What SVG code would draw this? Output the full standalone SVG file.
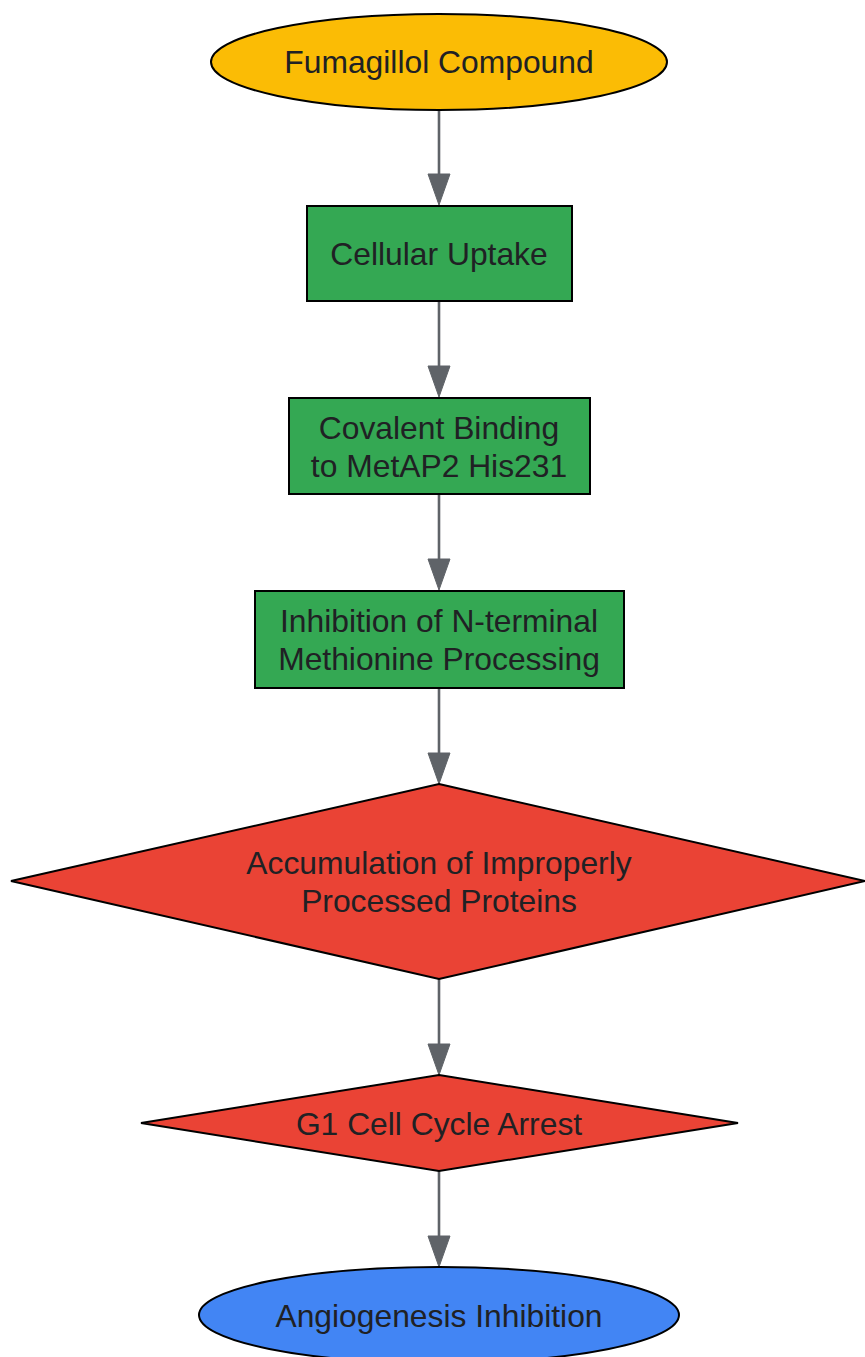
<svg xmlns="http://www.w3.org/2000/svg" width="865" height="1357" viewBox="0 0 865 1357">
<style>
.n{stroke:#000;stroke-width:2}
.t{font-family:"Liberation Sans",Arial,sans-serif;font-size:31.8px;fill:#202124;text-anchor:middle}
.e{stroke:#5F6368;stroke-width:2.6;fill:none}
.h{fill:#5F6368;stroke:#5F6368;stroke-width:1}
</style>
<rect width="865" height="1357" fill="#fff"/>
<g id="connectors">
<line class="e" x1="439" y1="110" x2="439" y2="175"/><polygon class="h" points="428,174 450,174 439,205"/>
<line class="e" x1="439" y1="301" x2="439" y2="367"/><polygon class="h" points="428,366 450,366 439,397"/>
<line class="e" x1="439" y1="494" x2="439" y2="560"/><polygon class="h" points="428,559 450,559 439,590"/>
<line class="e" x1="439" y1="688" x2="439" y2="754"/><polygon class="h" points="428,753 450,753 439,784"/>
<line class="e" x1="439" y1="979" x2="439" y2="1045"/><polygon class="h" points="428,1044 450,1044 439,1075"/>
<line class="e" x1="439" y1="1171" x2="439" y2="1237"/><polygon class="h" points="428,1236 450,1236 439,1267"/>
</g>
<g id="n1"><ellipse class="n" cx="439" cy="62" rx="228" ry="48" fill="#FBBC05"/><text class="t" x="439" y="73">Fumagillol Compound</text></g>
<g id="n2"><rect class="n" x="307" y="206" width="265" height="95" fill="#34A853"/><text class="t" x="439" y="265">Cellular Uptake</text></g>
<g id="n3"><rect class="n" x="289" y="398" width="301" height="96" fill="#34A853"/><text class="t" x="439" y="439">Covalent Binding</text><text class="t" x="439" y="477">to MetAP2 His231</text></g>
<g id="n4"><rect class="n" x="255" y="591" width="369" height="97" fill="#34A853"/><text class="t" x="439" y="632">Inhibition of N-terminal</text><text class="t" x="439" y="670">Methionine Processing</text></g>
<g id="n5"><polygon class="n" points="439,784 865,881 439,979 11,881" fill="#EA4335"/><text class="t" x="439" y="874">Accumulation of Improperly</text><text class="t" x="439" y="912">Processed Proteins</text></g>
<g id="n6"><polygon class="n" points="439,1075 738,1123 439,1171 141,1123" fill="#EA4335"/><text class="t" x="439" y="1135">G1 Cell Cycle Arrest</text></g>
<g id="n7"><ellipse class="n" cx="439" cy="1315" rx="240" ry="48" fill="#4285F4"/><text class="t" x="439" y="1327">Angiogenesis Inhibition</text></g>
</svg>
